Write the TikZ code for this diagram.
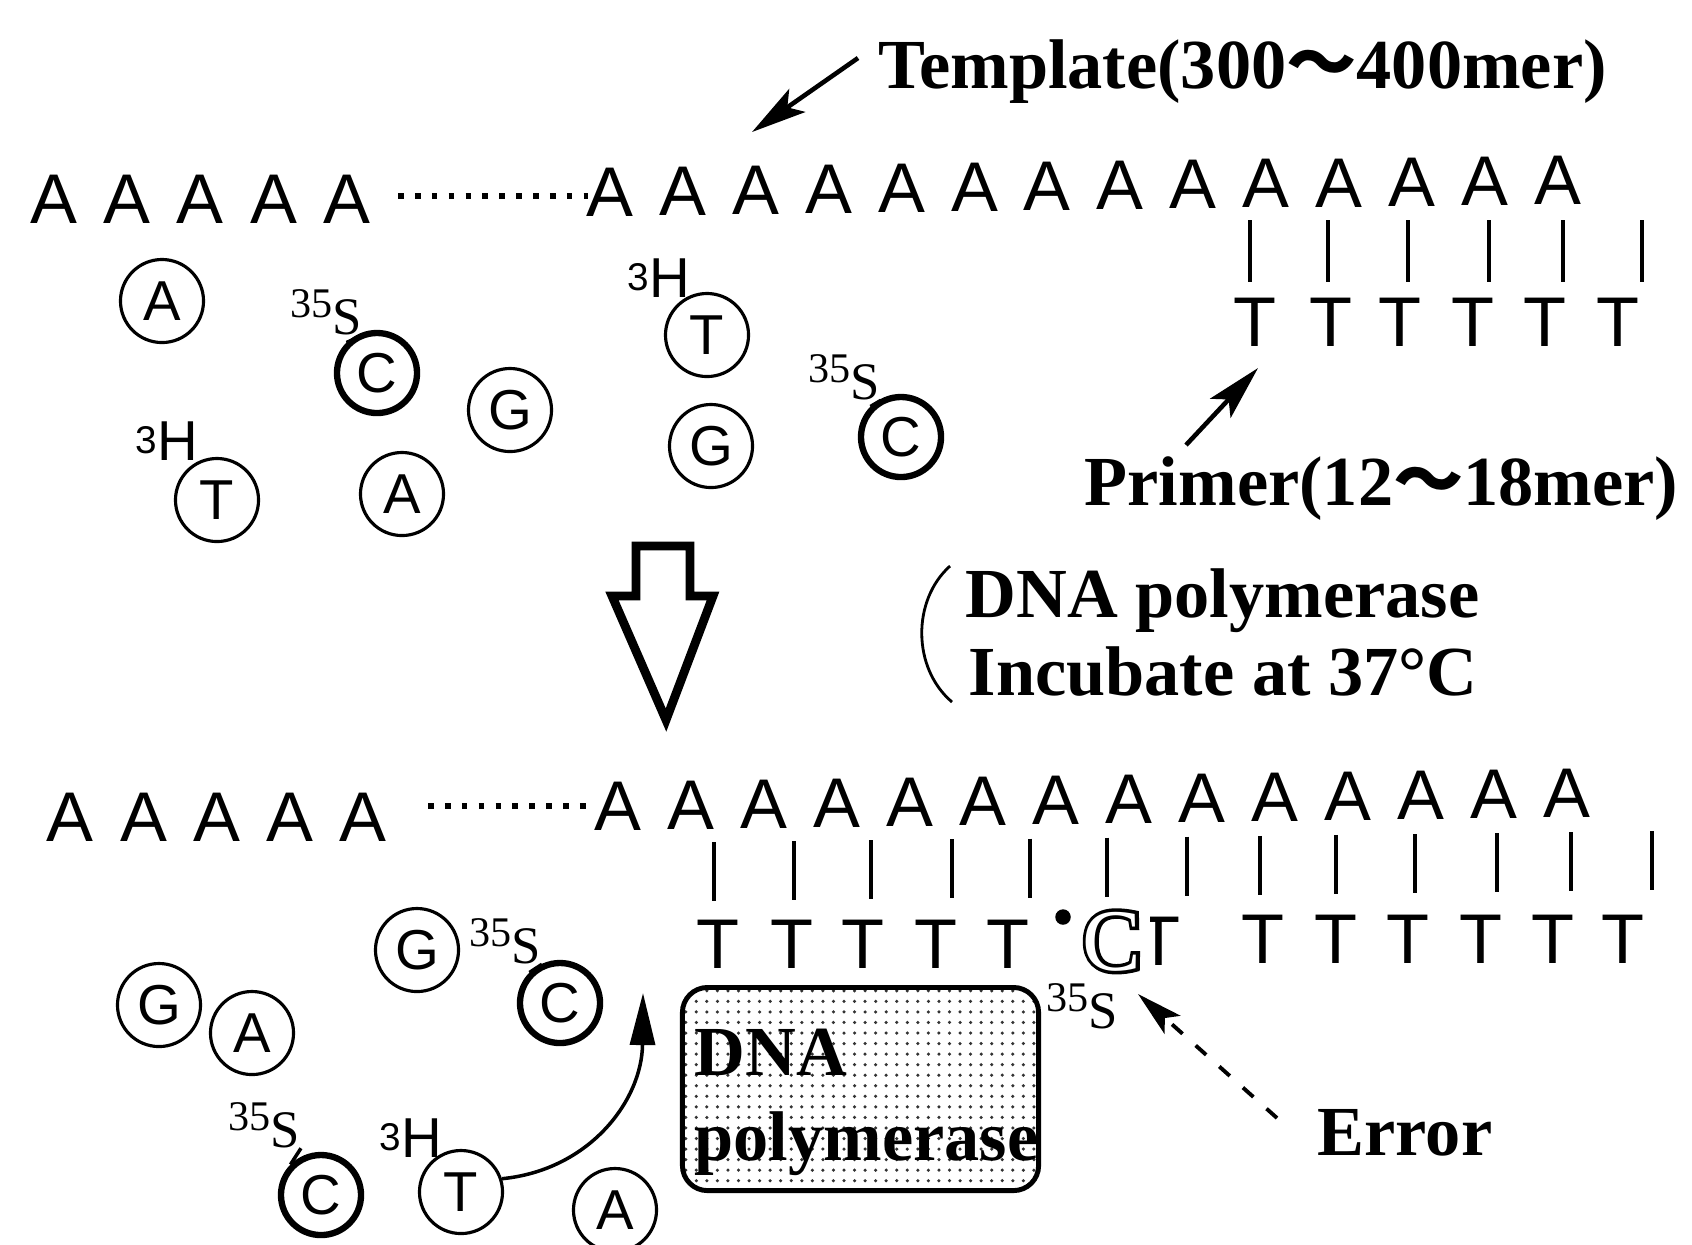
\documentclass[tikz,border=0pt]{standalone}
\usepackage{fontspec}
\setmainfont{Liberation Serif}
\setsansfont{Liberation Sans}
\newfontfamily\cjk{Noto Sans CJK SC}
\newfontfamily\outlinefont[FakeBold=8]{Liberation Serif}
\usetikzlibrary{arrows.meta,patterns}
\newcommand\isoS{{\rmfamily\fontsize{12}{12}\selectfont 35}\raisebox{-0.17cm}{\rmfamily\fontsize{15}{15}\selectfont S}}
\newcommand\isoH{\raisebox{0.07cm}{\sffamily\fontsize{11}{11}\selectfont 3}{\sffamily\fontsize{16}{16}\selectfont H}}
\tikzset{
 seq/.style={font=\sffamily\fontsize{20}{24}\selectfont, inner sep=0pt, anchor=base},
 nuc/.style={circle, draw, line width=0.9pt, minimum size=0.83cm, inner sep=0pt, font=\sffamily\fontsize{16}{18}\selectfont},
 nucb/.style={nuc, line width=1.8pt, minimum size=0.80cm},
 lab/.style={font=\rmfamily\bfseries\fontsize{20}{24}\selectfont, inner sep=0pt, anchor=base west},
 pairbar/.style={line width=0.9pt},
 iso/.style={inner sep=0pt, anchor=base west},
 seqdots/.style={line width=1.6pt, dash pattern=on 1.6pt off 3.2pt},
 pointer/.style={line width=1.3pt, -{Stealth[length=0.55cm,width=0.28cm,inset=0.12cm]}},
 stub/.style={line width=1pt}
}
\begin{document}
\begin{tikzpicture}[x=0.01cm, y=-0.01cm]
\useasboundingbox (0,0) rectangle (1692,1244);

% ---------- top strand ----------
\foreach \x [count=\i] in {54,127,200,274,347} \node[seq] (tl\i) at (\x,223) {A};
\foreach \i in {0,...,13} {
  \pgfmathsetmacro\xx{610+72.9*\i}
  \pgfmathsetmacro\yy{216-0.9*\i}
  \node[seq] (tr\i) at (\xx,\yy) {A};
}
\coordinate (d1a) at (398,196);
\coordinate (d1b) at (588,196);
\draw[seqdots] (d1a) -- (d1b);
\foreach \x in {1250,1328,1408,1489,1563,1642} \draw[pairbar] (\x,220) -- (\x,282);
\foreach \x [count=\i] in {1255,1331,1400,1473,1545,1618} \node[seq] (tt\i) at (\x,346) {T};

% labels top
\node[lab] (tmpl) at (878,88) {Template(300{\cjk ～}400mer)};
\coordinate (tmplTail) at (858,58);
\coordinate (tmplTip) at (752,132);
\draw[pointer] (tmplTail) -- (tmplTip);

\node[lab] (prim) at (1084,505) {Primer(12{\cjk ～}18mer)};
\coordinate (prTail) at (1186,445);
\coordinate (prTip) at (1258,368);
\draw[pointer] (prTail) -- (prTip);

% free nucleotides top
\node[nuc] (nA1) at (162,301) {A};
\node[nucb] (nC1) at (377,373) {C};
\node[iso] (sC1) at (290,317) {\isoS};
\draw[stub] (sC1.south east) -- (nC1.135);
\node[nuc] (nG1) at (510,410) {G};
\node[nuc] (nT1) at (217,500) {T};
\node[iso] (hT1) at (135,460) {\isoH};
\node[nuc] (nA2) at (402,494) {A};
\node[nuc] (nT2) at (707,335) {T};
\node[iso] (hT2) at (627,297) {\isoH};
\node[nuc] (nG2) at (711,446) {G};
\node[nucb] (nC2) at (901,437) {C};
\node[iso] (sC2) at (808,382) {\isoS};
\draw[stub] (sC2.south east) -- (nC2.135);

% ---------- big hollow arrow ----------
\draw[line width=2.5pt, line join=miter] (636,546) -- (690,546) -- (690,596) -- (713,596)
  -- (666,720) -- (612,596) -- (636,596) -- cycle;

% condition text with bracket
\coordinate (brTop) at (950,566);
\coordinate (brBot) at (952,702);
\draw[line width=0.8pt] (brTop) .. controls (912,600) and (912,668) .. (brBot);
\node[lab] (cond1) at (965,617) {DNA polymerase};
\node[lab] (cond2) at (968,695) {Incubate at 37°C};

% ---------- bottom strand ----------
\foreach \x [count=\i] in {70,144,217,290,363} \node[seq] (bl\i) at (\x,841) {A};
\foreach \i in {0,...,13} {
  \pgfmathsetmacro\xx{618+73*\i}
  \pgfmathsetmacro\yy{830-1.0*\i}
  \node[seq] (br\i) at (\xx,\yy) {A};
}
\coordinate (d2a) at (428,806);
\coordinate (d2b) at (596,806);
\draw[seqdots] (d2a) -- (d2b);
\foreach \x [count=\i] in {714,794,871,952,1030,1107,1187,1260,1336,1415,1497,1571,1652} {
  \pgfmathsetmacro\ya{843-0.9*\i}
  \pgfmathsetmacro\yb{902-0.9*\i}
  \draw[pairbar] (\x,\ya) -- (\x,\yb);
}
\foreach \x [count=\i] in {718,792,863,936,1008} \node[seq] (bt\i) at (\x,968) {T};
\foreach \x [count=\i] in {1263,1336,1408,1481,1553,1623} \node[seq] (bu\i) at (\x,963) {T};
\fill (1063,917) circle (2.2pt);
\node[iso, font=\outlinefont\fontsize{25}{28}\selectfont] (errCo) at (1082,970) {C};
\node[iso, font=\rmfamily\fontsize{25}{28}\selectfont, text=white] (errC) at (1082,970) {C};
\begin{scope}
  \clip (1150,890) rectangle (1205,985);
  \node[seq] (brokenT) at (1159,965) {T};
\end{scope}
\node[iso] (errS) at (1046,1011) {\isoS};

% error arrow
\coordinate (errTail) at (1277,1118);
\coordinate (errTip) at (1138,994);
\draw[line width=1.1pt, dash pattern=on 4pt off 5pt, -{Stealth[length=0.46cm,width=0.24cm,inset=0.1cm]}] (errTail) -- (errTip);
\node[lab] (err) at (1317,1155) {Error};

% polymerase box
\node[draw, line width=1.4pt, rounded corners=0.25cm, minimum width=3.56cm, minimum height=2.03cm,
      pattern=dots, pattern color=black!80] (pol) at (860.5,1089) {};
\node[lab] (polA) at (694,1075) {DNA};
\node[lab] (polB) at (694,1160) {polymerase};

% free nucleotides bottom
\node[nuc] (nG3) at (159,1005) {G};
\node[nuc] (nA3) at (252,1033) {A};
\node[nuc] (nG4) at (417,950) {G};
\node[nucb] (nC3) at (560,1003) {C};
\node[iso] (sC3) at (469,946) {\isoS};
\draw[stub] (sC3.south east) -- (nC3.135);
\node[nucb] (nC4) at (321,1195) {C};
\node[iso] (sC4) at (228,1130) {\isoS};
\draw[stub] (sC4.south east) -- (nC4.135);
\node[nuc] (nT3) at (461,1192) {T};
\node[iso] (hT3) at (379,1157) {\isoH};
\node[nuc] (nA4) at (615,1210) {A};

% curved arrow
\coordinate (cTip) at (643,993);
\draw[line width=1pt, -{Triangle[length=0.52cm,width=0.25cm]}] (nT3.18) .. controls (590,1170) and (642,1100) .. (cTip);
\end{tikzpicture}
\end{document}
